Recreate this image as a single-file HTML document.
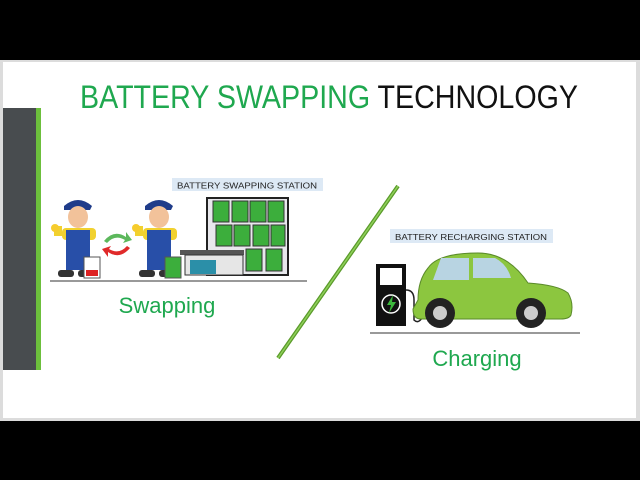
<!DOCTYPE html>
<html><head><style>html,body{margin:0;padding:0;background:#000;}svg{display:block}</style></head><body>
<svg width="640" height="480" viewBox="0 0 640 480" xmlns="http://www.w3.org/2000/svg" font-family="Liberation Sans, sans-serif">
<rect x="0" y="0" width="640" height="480" fill="#000"/>
<rect x="0" y="60" width="640" height="361" fill="#dcdcdc"/>
<rect x="3" y="62" width="633" height="356" fill="#fff"/>
<rect x="3" y="108" width="33" height="262" fill="#484c4f"/>
<rect x="36" y="108" width="5" height="262" fill="#6cbf3c"/>
<text x="80" y="108" font-size="32" textLength="498" lengthAdjust="spacingAndGlyphs"><tspan fill="#1fa84f">BATTERY SWAPPING </tspan><tspan fill="#111">TECHNOLOGY</tspan></text>
<line x1="398" y1="186" x2="278" y2="358" stroke="#5a9a2a" stroke-width="4"/>
<line x1="398" y1="186" x2="278" y2="358" stroke="#8fd05a" stroke-width="1.5"/>
<!-- swapping label -->
<rect x="172" y="178" width="151" height="13" fill="#dde9f5"/>
<text x="247" y="188.5" font-size="8.5" text-anchor="middle" fill="#222" textLength="140" lengthAdjust="spacingAndGlyphs">BATTERY SWAPPING STATION</text>
<!-- building -->
<rect x="207" y="198" width="81" height="77" fill="#e8e8ec" stroke="#222" stroke-width="2"/>
<g fill="#3cae3c" stroke="#333" stroke-width="1">
<rect x="213" y="201" width="16" height="21"/><rect x="232" y="201" width="16" height="21"/><rect x="250" y="201" width="16" height="21"/><rect x="268" y="201" width="16" height="21"/>
<rect x="216" y="225" width="16" height="21"/><rect x="234" y="225" width="16" height="21"/><rect x="253" y="225" width="16" height="21"/><rect x="271" y="225" width="14" height="21"/>
<rect x="246" y="249" width="16" height="22"/><rect x="266" y="249" width="16" height="22"/>
</g>
<rect x="180" y="250" width="64" height="5" fill="#555"/>
<rect x="185" y="255" width="58" height="20" fill="#e6e6e6" stroke="#333"/>
<rect x="190" y="260" width="26" height="14" fill="#2b8fa8"/>
<line x1="50" y1="281" x2="307" y2="281" stroke="#999" stroke-width="2"/>
<!-- workers -->
<g id="w">
<path d="M64 206 q14 -12 28 0 l-2 4 h-26z" fill="#1f3c8a"/>
<ellipse cx="78" cy="217" rx="10" ry="11" fill="#f2c29a"/>
<rect x="62" y="228" width="34" height="12" rx="4" fill="#f1d12f"/>
<rect x="66" y="230" width="24" height="40" fill="#284fa8"/>
<rect x="54" y="226" width="8" height="10" fill="#f1d12f"/>
<circle cx="55" cy="228" r="4" fill="#f6cc2d"/>
<rect x="58" y="270" width="16" height="7" rx="3" fill="#333"/>
<rect x="78" y="270" width="16" height="7" rx="3" fill="#333"/>
</g>
<use href="#w" x="81"/>
<rect x="84" y="257" width="16" height="21" fill="#fff" stroke="#555"/>
<rect x="86" y="270" width="12" height="6" fill="#d22"/>
<rect x="165" y="257" width="16" height="21" fill="#3cae3c" stroke="#555"/>
<path d="M104 241 q10 -12 22 -4 l0 -5 l6 8 l-9 3 l2 -3 q-10 -6 -18 3z" fill="#5cb85c"/>
<path d="M130 248 q-10 12 -22 4 l0 5 l-6 -8 l9 -3 l-2 3 q10 6 18 -3z" fill="#e02a2a"/>
<text x="167" y="313" font-size="22" text-anchor="middle" fill="#1fa84f">Swapping</text>
<!-- charging -->
<rect x="390" y="229" width="163" height="14" fill="#dde9f5"/>
<text x="471" y="240" font-size="8.5" text-anchor="middle" fill="#222" textLength="152" lengthAdjust="spacingAndGlyphs">BATTERY RECHARGING STATION</text>
<rect x="376" y="264" width="30" height="62" fill="#111"/>
<rect x="380" y="268" width="22" height="17" fill="#fff"/>
<circle cx="391" cy="304" r="9" fill="none" stroke="#fff" stroke-width="1.5"/>
<path d="M393 295 l-6 10 h4 l-2 8 l7 -11 h-4z" fill="#3cb83c"/>
<path d="M406 290 q8 0 8 10 v20 q4 4 8 -2" fill="none" stroke="#222" stroke-width="1.5"/>
<path d="M418 300 q0 -20 10 -32 q10 -15 50 -15 q30 0 50 30 q30 2 40 10 q6 10 3 22 q-2 4 -10 4 h-140 q-8 0 -8 -10z" fill="#8cc63f" stroke="#5a8a2a"/>
<path d="M433 280 l8 -22 h28 v22z M473 258 h22 q12 6 16 20 h-38z" fill="#b8d4e2"/>
<circle cx="440" cy="313" r="15" fill="#222"/><circle cx="440" cy="313" r="7" fill="#ccc"/>
<circle cx="531" cy="313" r="15" fill="#222"/><circle cx="531" cy="313" r="7" fill="#ccc"/>
<line x1="370" y1="333" x2="580" y2="333" stroke="#999" stroke-width="2"/>
<text x="477" y="366" font-size="22" text-anchor="middle" fill="#1fa84f">Charging</text>
</svg>
</body></html>
